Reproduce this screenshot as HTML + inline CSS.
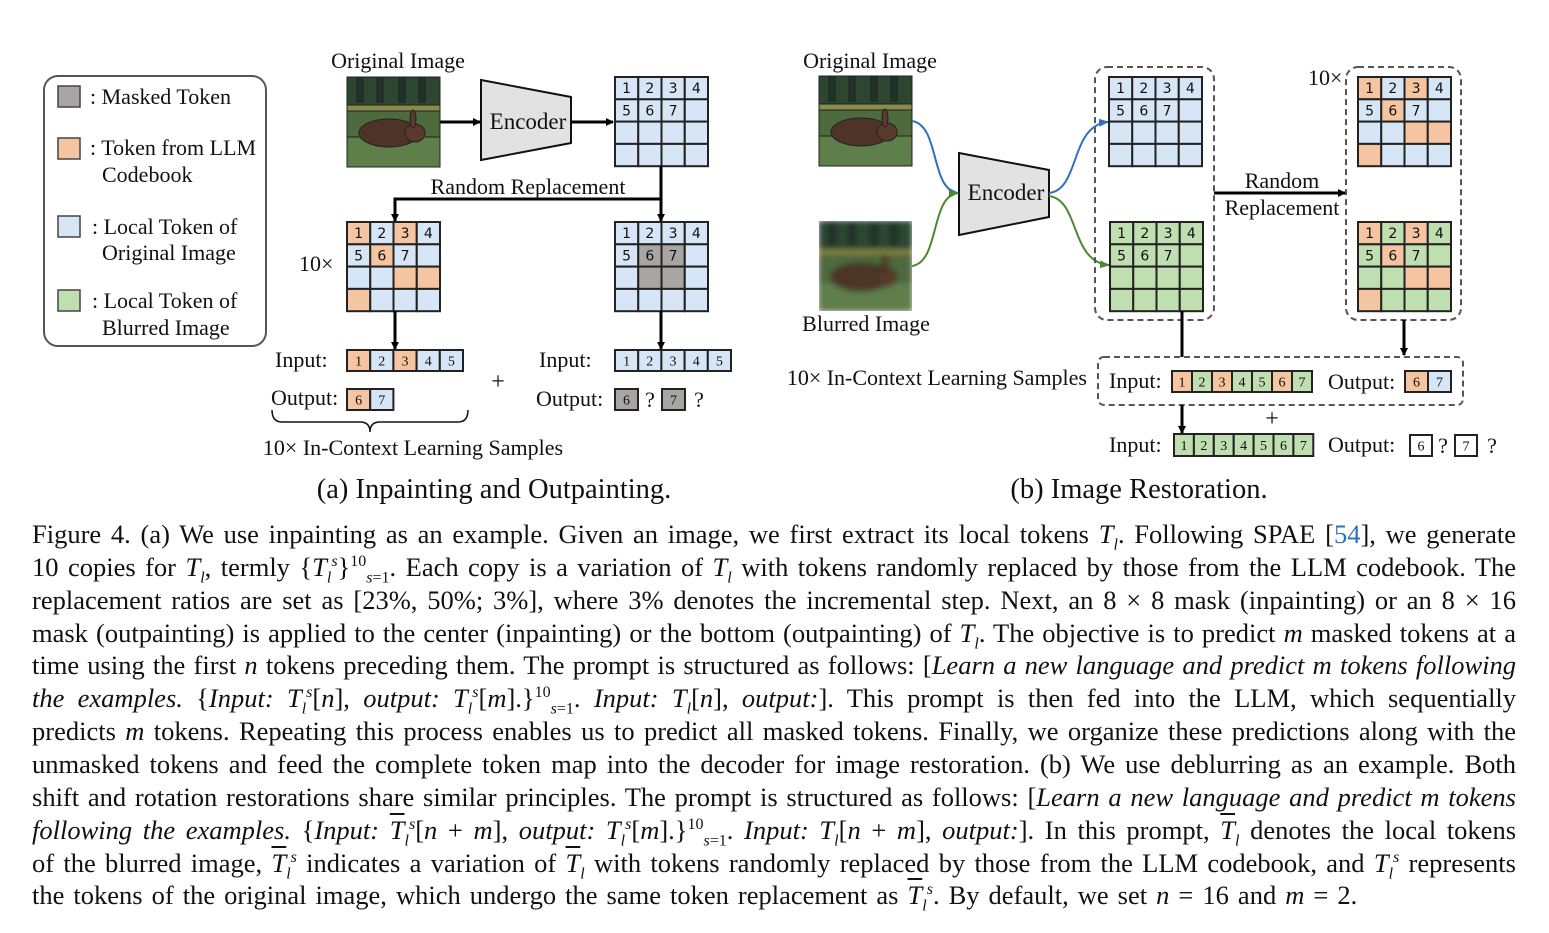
<!DOCTYPE html>
<html><head><meta charset="utf-8">
<style>
body{margin:0;background:#fff;width:1549px;height:933px;overflow:hidden;position:relative;font-family:"Liberation Serif",serif;}
svg{position:absolute;left:0;top:0}
.cap{position:absolute;left:32px;width:1484px;font-size:26.5px;line-height:30px;white-space:nowrap;text-align:justify;text-align-last:justify;color:#111}
.cap i{font-style:italic}
.cap sub,.cap sup{font-size:16px;line-height:0}
.ob{text-decoration:overline}
.blue{color:#2f6fbf}
</style></head><body>
<svg id="s" width="1549" height="520" xmlns="http://www.w3.org/2000/svg">
<defs>
<marker id="ah" markerWidth="8" markerHeight="8" refX="7" refY="4" orient="auto" markerUnits="userSpaceOnUse"><path d="M0,0 L8,4 L0,8 z" fill="#000"/></marker>
<marker id="ab" markerWidth="10" markerHeight="10" refX="9" refY="5" orient="auto" markerUnits="userSpaceOnUse"><path d="M0,1 L10,5 L0,9 z" fill="#2f6fbf"/></marker>
<marker id="ag" markerWidth="10" markerHeight="10" refX="9" refY="5" orient="auto" markerUnits="userSpaceOnUse"><path d="M0,1 L10,5 L0,9 z" fill="#4a8a2e"/></marker>
<filter id="bl"><feGaussianBlur stdDeviation="3"/></filter>
<g id="rab">
<rect x="0" y="0" width="93" height="90" fill="#4d6b3d"/>
<rect x="0" y="0" width="93" height="30" fill="#2c4630"/>
<rect x="10" y="0" width="6" height="25" fill="#1f3328"/><rect x="30" y="0" width="6" height="25" fill="#1f3328"/><rect x="52" y="0" width="6" height="25" fill="#1f3328"/><rect x="72" y="0" width="6" height="25" fill="#1f3328"/>
<rect x="0" y="28" width="93" height="6" fill="#8a8a4a"/>
<rect x="0" y="60" width="93" height="30" fill="#5e7e4a"/>
<ellipse cx="42" cy="56" rx="30" ry="14" fill="#4e3428"/>
<ellipse cx="68" cy="56" rx="10" ry="9" fill="#5a3a2c"/>
<ellipse cx="66" cy="42" rx="3" ry="9" fill="#5a3a2c"/>
</g>
</defs>
<g id="g" stroke="#222" fill="none" font-family="Liberation Serif" ></g>
</svg>
<script>
const S=document.getElementById('g');const NS='http://www.w3.org/2000/svg';
function el(t,a,txt){const e=document.createElementNS(NS,t);for(const k in a)e.setAttribute(k,a[k]);if(txt!==undefined)e.textContent=txt;S.appendChild(e);return e;}
const C={b:'#d6e6f6',o:'#f5c4a0',g:'#bfdfb0',m:'#a9a5a3',w:'#fff'};
function txt(x,y,s,size,anchor){el('text',{x:x,y:y,'font-size':size||22,'text-anchor':anchor||'start',fill:'#111',stroke:'none','font-family':'Liberation Serif'},s);}
function grid(x,y,cols,w,h,colors){
 for(let r=0;r<4;r++)for(let c=0;c<4;c++){const k=colors[r*4+c];el('rect',{x:x+c*w,y:y+r*h,width:w,height:h,fill:C[k],stroke:'#222','stroke-width':2});
  const n=r*4+c+1;if(n<=7)el('text',{x:x+c*w+w/2,y:y+r*h+h/2+5,'font-size':14,'text-anchor':'middle',fill:'#111',stroke:'none','font-family':'DejaVu Sans'},n);}
}
function row(x,y,w,h,colors,labels){for(let i=0;i<colors.length;i++){el('rect',{x:x+i*w,y:y,width:w,height:h,fill:C[colors[i]],stroke:'#222','stroke-width':2});
 el('text',{x:x+i*w+w/2,y:y+h/2+5,'font-size':14,'text-anchor':'middle',fill:'#111',stroke:'none','font-family':'Liberation Serif'},labels[i]);}}
function arr(d,m){el('path',{d:d,stroke:'#000','stroke-width':3,fill:'none','marker-end':'url(#'+(m||'ah')+')'});}
// legend
el('rect',{x:44,y:76,width:222,height:270,rx:14,stroke:'#555','stroke-width':2,fill:'none'});
[[86,'m'],[138,'o'],[216,'b'],[290,'g']].forEach(a=>el('rect',{x:58,y:a[0],width:22,height:21,fill:C[a[1]],stroke:'#444','stroke-width':1.5}));
txt(90,104,': Masked Token');txt(90,155,': Token from LLM');txt(102,182,'Codebook');
txt(92,234,': Local Token of');txt(102,260,'Original Image');txt(92,308,': Local Token of');txt(102,335,'Blurred Image');
// (a)
const U=document.createElementNS(NS,'use');U.setAttribute('href','#rab');U.setAttribute('x',347);U.setAttribute('y',77);S.appendChild(U);
txt(398,68,'Original Image',22,'middle');
el('path',{d:'M481,80 L571,97 L571,143 L481,160 Z',fill:'#e2e2e2',stroke:'#111','stroke-width':2});
txt(528,129,'Encoder',23,'middle');
arr('M440,122 L480,122');arr('M571,122 L613,122');
const B16=Array(16).fill('b');
grid(615,77,4,23.25,22.3,B16);
txt(528,194,'Random Replacement',22,'middle');
arr('M661,166 L661,221');arr('M661,199 L395,199 L395,221');
grid(347,222,4,23.25,22.3,['o','b','o','b','b','o','b','b','b','b','o','o','o','b','b','b']);
grid(615,222,4,23.25,22.3,['b','b','b','b','b','m','m','b','b','m','m','b','b','b','b','b']);
txt(299,271,'10×',22);
arr('M395,311 L395,349');arr('M661,311 L661,349');
txt(275,367,'Input:',22);row(347,350,23.2,21,['o','b','o','b','b'],[1,2,3,4,5]);
txt(271,405,'Output:',22);row(347,389,23.2,21,['o','b'],[6,7]);
txt(539,367,'Input:',22);row(615,350,23.2,21,['b','b','b','b','b'],[1,2,3,4,5]);
txt(536,406,'Output:',22);row(615,389,23,21,['m'],[6]);txt(650,407,'?',22,'middle');row(662,389,23,21,['m'],[7]);txt(699,407,'?',22,'middle');
txt(498,389,'+',24,'middle');
el('path',{d:'M272,410 Q272,422 282,422 L360,422 Q370,422 370,432 Q370,422 380,422 L458,422 Q468,422 468,410',stroke:'#111','stroke-width':1.5,fill:'none'});
txt(413,455,'10× In-Context Learning Samples',22,'middle');
txt(494,498,'(a) Inpainting and Outpainting.',28.5,'middle');
// (b)
const U2=document.createElementNS(NS,'use');U2.setAttribute('href','#rab');U2.setAttribute('x',819);U2.setAttribute('y',76);S.appendChild(U2);
const G2=document.createElementNS(NS,'g');G2.setAttribute('filter','url(#bl)');const cl=document.createElementNS(NS,'clipPath');cl.id='cp';const cr=document.createElementNS(NS,'rect');cr.setAttribute('x',819);cr.setAttribute('y',221);cr.setAttribute('width',93);cr.setAttribute('height',90);cl.appendChild(cr);S.appendChild(cl);
const W=document.createElementNS(NS,'g');W.setAttribute('clip-path','url(#cp)');const U3=document.createElementNS(NS,'use');U3.setAttribute('href','#rab');U3.setAttribute('x',819);U3.setAttribute('y',221);G2.appendChild(U3);W.appendChild(G2);S.appendChild(W);
txt(870,68,'Original Image',22,'middle');txt(866,331,'Blurred Image',22,'middle');
el('path',{d:'M959,153 L1049,170 L1049,217 L959,235 Z',fill:'#e2e2e2',stroke:'#111','stroke-width':2});
txt(1006,200,'Encoder',23,'middle');
el('path',{d:'M912,121 C940,125 930,190 958,193',stroke:'#2f6fbf','stroke-width':2,fill:'none','marker-end':'url(#ab)'});
el('path',{d:'M912,266 C940,262 930,196 958,193',stroke:'#4a8a2e','stroke-width':2,fill:'none','marker-end':'url(#ag)'});
el('path',{d:'M1049,193 C1080,190 1070,125 1108,122',stroke:'#2f6fbf','stroke-width':2,fill:'none','marker-end':'url(#ab)'});
el('path',{d:'M1049,196 C1080,200 1070,262 1109,265',stroke:'#4a8a2e','stroke-width':2,fill:'none','marker-end':'url(#ag)'});
const dash={stroke:'#555','stroke-width':2,'stroke-dasharray':'6,4',fill:'none'};
el('rect',Object.assign({x:1095,y:67,width:119,height:253,rx:12},dash));
el('rect',Object.assign({x:1346,y:67,width:115,height:253,rx:12},dash));
el('rect',Object.assign({x:1098,y:357,width:365,height:48,rx:6},dash));
grid(1109,77,4,23.25,22.3,B16);
grid(1110,222,4,23.25,22.3,Array(16).fill('g'));
grid(1358,77,4,23.25,22.3,['o','b','o','b','b','o','b','b','b','b','o','o','o','b','b','b']);
grid(1358,222,4,23.25,22.3,['o','g','o','g','g','o','g','g','g','g','o','o','o','g','g','g']);
arr('M1214,193 L1345,193');
txt(1282,188,'Random',22,'middle');txt(1282,215,'Replacement',22,'middle');
txt(1308,85,'10×',22);
el('path',{d:'M1182,311 L1182,357',stroke:'#000','stroke-width':3});
arr('M1404,320 L1404,355');
arr('M1182,405 L1182,433');
txt(1087,385,'10× In-Context Learning Samples',22,'end');
txt(1109,388,'Input:',22);row(1172,371,20,21,['o','g','o','g','g','o','g'],[1,2,3,4,5,6,7]);
txt(1328,389,'Output:',22);row(1405,371,23,21,['o','b'],[6,7]);
txt(1272,426,'+',24,'middle');
txt(1109,452,'Input:',22);row(1174,434,19.9,22,Array(7).fill('g'),[1,2,3,4,5,6,7]);
txt(1328,452,'Output:',22);row(1410,435,22,21,['w'],[6]);txt(1443,453,'?',22,'middle');row(1455,435,22,21,['w'],[7]);txt(1492,453,'?',22,'middle');
txt(1139,498,'(b) Image Restoration.',28.5,'middle');
</script>
<div class="cap" style="top:519px">Figure 4. (a) We use inpainting as an example. Given an image, we first extract its local tokens <i>T<sub>l</sub></i>. Following SPAE [<span class="blue">54</span>], we generate</div>
<div class="cap" style="top:552px">10 copies for <i>T<sub>l</sub></i>, termly {<i>T<sub>l</sub><sup>s</sup></i>}<sup>10</sup><sub><i>s</i>=1</sub>. Each copy is a variation of <i>T<sub>l</sub></i> with tokens randomly replaced by those from the LLM codebook. The</div>
<div class="cap" style="top:585px">replacement ratios are set as [23%, 50%; 3%], where 3% denotes the incremental step. Next, an 8 × 8 mask (inpainting) or an 8 × 16</div>
<div class="cap" style="top:618px">mask (outpainting) is applied to the center (inpainting) or the bottom (outpainting) of <i>T<sub>l</sub></i>. The objective is to predict <i>m</i> masked tokens at a</div>
<div class="cap" style="top:650px">time using the first <i>n</i> tokens preceding them. The prompt is structured as follows: [<i>Learn a new language and predict m tokens following</i></div>
<div class="cap" style="top:683px"><i>the examples.</i> {<i>Input: T<sub>l</sub><sup>s</sup></i>[<i>n</i>], <i>output: T<sub>l</sub><sup>s</sup></i>[<i>m</i>].}<sup>10</sup><sub><i>s</i>=1</sub>. <i>Input: T<sub>l</sub></i>[<i>n</i>], <i>output:</i>]. This prompt is then fed into the LLM, which sequentially</div>
<div class="cap" style="top:716px">predicts <i>m</i> tokens. Repeating this process enables us to predict all masked tokens. Finally, we organize these predictions along with the</div>
<div class="cap" style="top:749px">unmasked tokens and feed the complete token map into the decoder for image restoration. (b) We use deblurring as an example. Both</div>
<div class="cap" style="top:782px">shift and rotation restorations share similar principles. The prompt is structured as follows: [<i>Learn a new language and predict m tokens</i></div>
<div class="cap" style="top:815px"><i>following the examples.</i> {<i>Input: <span class="ob">T</span><sub>l</sub><sup>s</sup></i>[<i>n</i> + <i>m</i>], <i>output: T<sub>l</sub><sup>s</sup></i>[<i>m</i>].}<sup>10</sup><sub><i>s</i>=1</sub>. <i>Input: T<sub>l</sub></i>[<i>n</i> + <i>m</i>], <i>output:</i>]. In this prompt, <i><span class="ob">T</span><sub>l</sub></i> denotes the local tokens</div>
<div class="cap" style="top:848px">of the blurred image, <i><span class="ob">T</span><sub>l</sub><sup>s</sup></i> indicates a variation of <i><span class="ob">T</span><sub>l</sub></i> with tokens randomly replaced by those from the LLM codebook, and <i>T<sub>l</sub><sup>s</sup></i> represents</div>
<div class="cap" style="top:880px;text-align:left;text-align-last:left;word-spacing:2.4px">the tokens of the original image, which undergo the same token replacement as <i><span class="ob">T</span><sub>l</sub><sup>s</sup></i>. By default, we set <i>n</i> = 16 and <i>m</i> = 2.</div>
</body></html>
